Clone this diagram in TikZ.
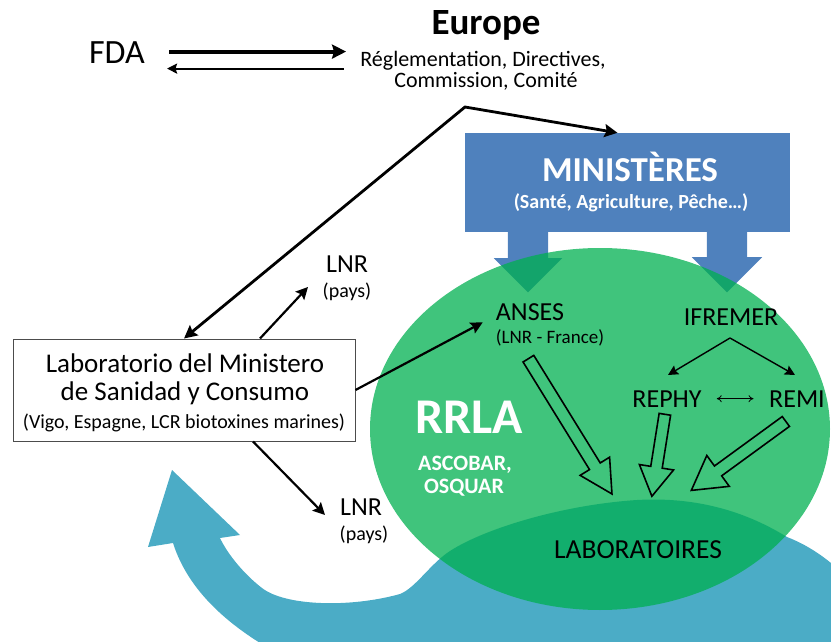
\documentclass[tikz,border=0pt]{standalone}
\usepackage{fontspec}
\setmainfont{Carlito}
\usetikzlibrary{arrows.meta,positioning,shapes.arrows}

\definecolor{ministblue}{RGB}{79,129,189}
\definecolor{waveblue}{RGB}{75,172,198}
\definecolor{rrlagreen}{RGB}{0,176,80}
\newcommand{\txtsize}[1]{\fontsize{#1}{#1}\selectfont}

\begin{document}
\begin{tikzpicture}[x=1pt, y=-1pt, every node/.style={inner sep=2pt},
		txt/.style={anchor=base, font=\txtsize{#1}},
		headtxt/.style={anchor=base, font=\txtsize{#1}\bfseries},
		whitetxt/.style={headtxt=#1, text=white},
		linkarrow/.style={line width=2.2pt, -{Stealth[length=12pt,width=12pt,inset=2pt]}},
		thinarrow/.style={line width=1.4pt, -{Stealth[length=10pt,width=10pt,inset=1.5pt]}},
		blockarrow/.style={single arrow, fill=ministblue, rotate=-90, anchor=tail, inner xsep=0pt, inner ysep=20pt, minimum width=0pt, single arrow tip angle=90},
		hollowarrow/.style={single arrow, draw=black, line width=1.6pt, anchor=tail, inner xsep=0pt, minimum width=0pt}]
			\useasboundingbox (0,0) rectangle (831,642);
			\clip (0,0) rectangle (831,642);
			
			\fill[waveblue] (831,660) -- (831,563)
				.. controls (815,550) and (800,542) .. (787,537)
				.. controls (740,508) and (690,497) .. (637,500)
				.. controls (560,505) and (480,530) .. (447,553)
				.. controls (428,567) and (415,588) .. (400,594)
				.. controls (350,608) and (285,606) .. (262,588)
				.. controls (245,575) and (228,555) .. (220,538)
				-- (240,535) -- (172,470) -- (148,547) -- (173,543)
				.. controls (188,590) and (228,628) .. (290,660) -- cycle;
			
			\node[fill=ministblue, inner sep=0pt, minimum width=325pt, minimum height=99pt] (minist) at (627.5,182.5) {};
			\node[blockarrow, single arrow head extend=14pt, minimum height=64pt] (ansesdown) at ([shift={(-99.5,-4)}]minist.south) {};
			\node[blockarrow, single arrow head extend=15pt, minimum height=64pt] (ifremerdown) at ([shift={(99.5,-4)}]minist.south) {};
			
			\fill[rrlagreen, fill opacity=0.75] (600,429) ellipse [x radius=230pt, y radius=181pt];
			
			\node[hollowarrow, rotate=-58.3, minimum height=159pt, inner ysep=5.5pt, single arrow head extend=11pt, single arrow tip angle=56] (ansesflow) at (528,358) {};
			\node[hollowarrow, rotate=-99, minimum height=83pt, inner ysep=5pt, single arrow head extend=11.5pt, single arrow tip angle=61] (rephyflow) at (665,413.5) {};
			\node[hollowarrow, rotate=-143.9, minimum height=117pt, inner ysep=5.3pt, single arrow head extend=13pt, single arrow tip angle=60] (remiflow) at (786.5,421) {};
			
			\node[txt=34] (fda) at (117,64) {FDA};
			\node[headtxt=37] (europe) at (486,35) {Europe};
			\node[txt=22] (regl) at (483,67) {Réglementation, Directives,};
			\node[txt=22] (commis) at (486,88) {Commission, Comité};
			\node[whitetxt=35] (ministitle) at (630,182) {MINISTÈRES};
			\node[whitetxt=20] (ministsub) at (631,208) {(Santé, Agriculture, Pêche…)};
			
			\node[draw=black!70, line width=1pt, fill=white, minimum width=342pt, minimum height=102pt] (lab) at (184,390) {};
			\node[txt=27] (labone) at (185,372) {Laboratorio del Ministero};
			\node[txt=27] (labtwo) at (185,400) {de Sanidad y Consumo};
			\node[txt=20] (labthree) at (184,428) {(Vigo, Espagne, LCR biotoxines marines)};
			
			\node[txt=26] (lnrtop) at (347,272) {LNR};
			\node[txt=20] (paystop) at (347,297) {(pays)};
			\node[txt=26] (lnrbot) at (361,515) {LNR};
			\node[txt=20] (paysbot) at (364,540) {(pays)};
			
			\node[txt=26] (anses) at (530,320) {ANSES};
			\node[txt=19] (ansessub) at (550,343) {(LNR - France)};
			\node[txt=26] (ifremer) at (731,325) {IFREMER};
			\node[txt=26] (rephy) at (667,407) {REPHY};
			\node[txt=26] (remi) at (797,407) {REMI};
			\node[whitetxt=50] (rrla) at (469,433) {RRLA};
			\node[whitetxt=22] (ascobar) at (465,470) {ASCOBAR,};
			\node[whitetxt=22] (osquar) at (464,493) {OSQUAR};
			\node[txt=27.5] (labos) at (638,558) {LABORATOIRES};
			
			\coordinate (bend) at (465,107);
			
			\draw[line width=4pt, -{Stealth[length=14pt,width=14pt,inset=2pt]}] ([shift={(22,-1.5)}]fda.east) -- +(177,0);
			\draw[line width=2pt, {Stealth[length=10pt,width=10pt,inset=1.5pt]}-] ([shift={(20,15.5)}]fda.east) -- +(177,0);
			\draw[linkarrow, line width=2.8pt, {Stealth[length=13pt,width=13pt,inset=2pt]}-{Stealth[length=13pt,width=13pt,inset=2pt]}] (lab.north) -- (bend) -- ([shift={(-10,0)}]minist.north);
			\draw[linkarrow] ([shift={(76,0)}]lab.north) -- ([shift={(-39,15)}]lnrtop.base);
			\draw[linkarrow] (lab.east) -- ([shift={(-11,0)}]anses.south west);
			\draw[linkarrow] ([shift={(69,0)}]lab.south) -- ([shift={(-36,0)}]lnrbot.base);
			\draw[thinarrow] ([shift={(-1,13)}]ifremer.base) -- ([shift={(1,-32)}]rephy.base);
			\draw[thinarrow] ([shift={(-1,13)}]ifremer.base) -- ([shift={(-2,-32)}]remi.base);
			\draw[line width=0.8pt, {To[length=5pt,width=7pt]}-{To[length=5pt,width=7pt]}, shorten <=13pt, shorten >=13.5pt] (rephy.east) -- (remi.west);
		\end{tikzpicture}
\end{document}
